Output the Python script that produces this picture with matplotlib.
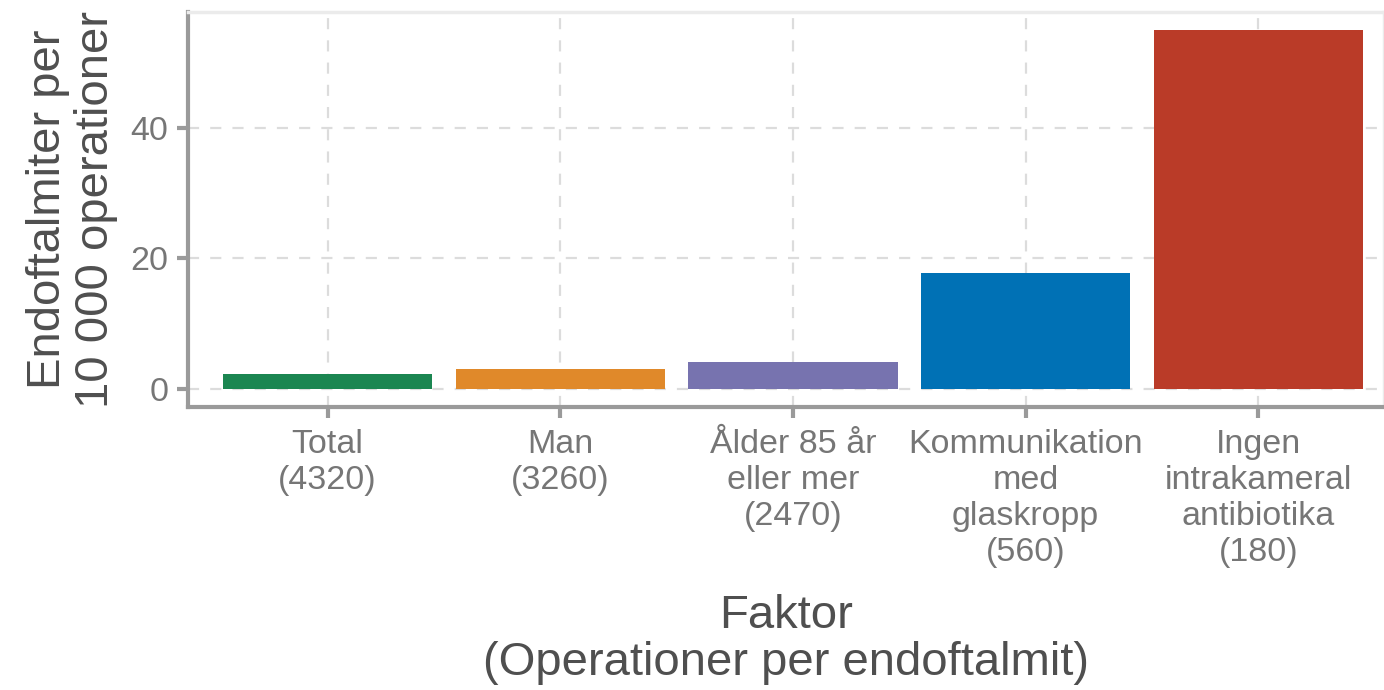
import matplotlib.pyplot as plt

plt.rcParams['font.family'] = ['Liberation Sans', 'DejaVu Sans']

categories = ['Total\n(4320)', 'Man\n(3260)', 'Ålder 85 år\neller mer\n(2470)',
              'Kommunikation\nmed\nglaskropp\n(560)', 'Ingen\nintrakameral\nantibiotika\n(180)']
values = [2.3, 3.1, 4.1, 17.7, 55.0]
colors = ['#1b8651', '#e0892a', '#7773af', '#0071b5', '#ba3b28']

fig = plt.figure(figsize=(13.84, 6.9), dpi=100)
ax = fig.add_axes([188 / 1384, 283 / 690, 1 - 188 / 1384, 395 / 690])

x = list(range(1, len(values) + 1))
ax.bar(x, values, width=0.9, color=colors, zorder=3)

ax.set_xlim(0.4, 5.54)
ax.set_ylim(-2.75, 57.75)
ax.set_xticks(x)
ax.set_xticklabels(categories, linespacing=1.2)
ax.set_yticks([0, 20, 40])

ax.set_axisbelow(True)
ax.grid(True, color='#dcdcdc', linestyle=(0, (5, 5)), linewidth=1.6)

for s in ['left', 'bottom']:
    ax.spines[s].set_color('#9a9a9a')
    ax.spines[s].set_linewidth(3)
for s in ['top', 'right']:
    ax.spines[s].set_color('#ebebeb')
    ax.spines[s].set_linewidth(2.5)

ax.tick_params(axis='both', colors='#9a9a9a', length=8, width=3,
               labelsize=24.5, labelcolor='#767676')
ax.tick_params(axis='x', pad=8)
ax.tick_params(axis='y', pad=6)

ax.set_ylabel('Endoftalmiter per\n10 000 operationer', fontsize=34,
              color='#4f4f4f', linespacing=1.12, labelpad=9)
ax.set_xlabel('Faktor\n(Operationer per endoftalmit)', fontsize=34,
              color='#4f4f4f', linespacing=1.08, labelpad=19)

fig.savefig('out.png', dpi=100)
